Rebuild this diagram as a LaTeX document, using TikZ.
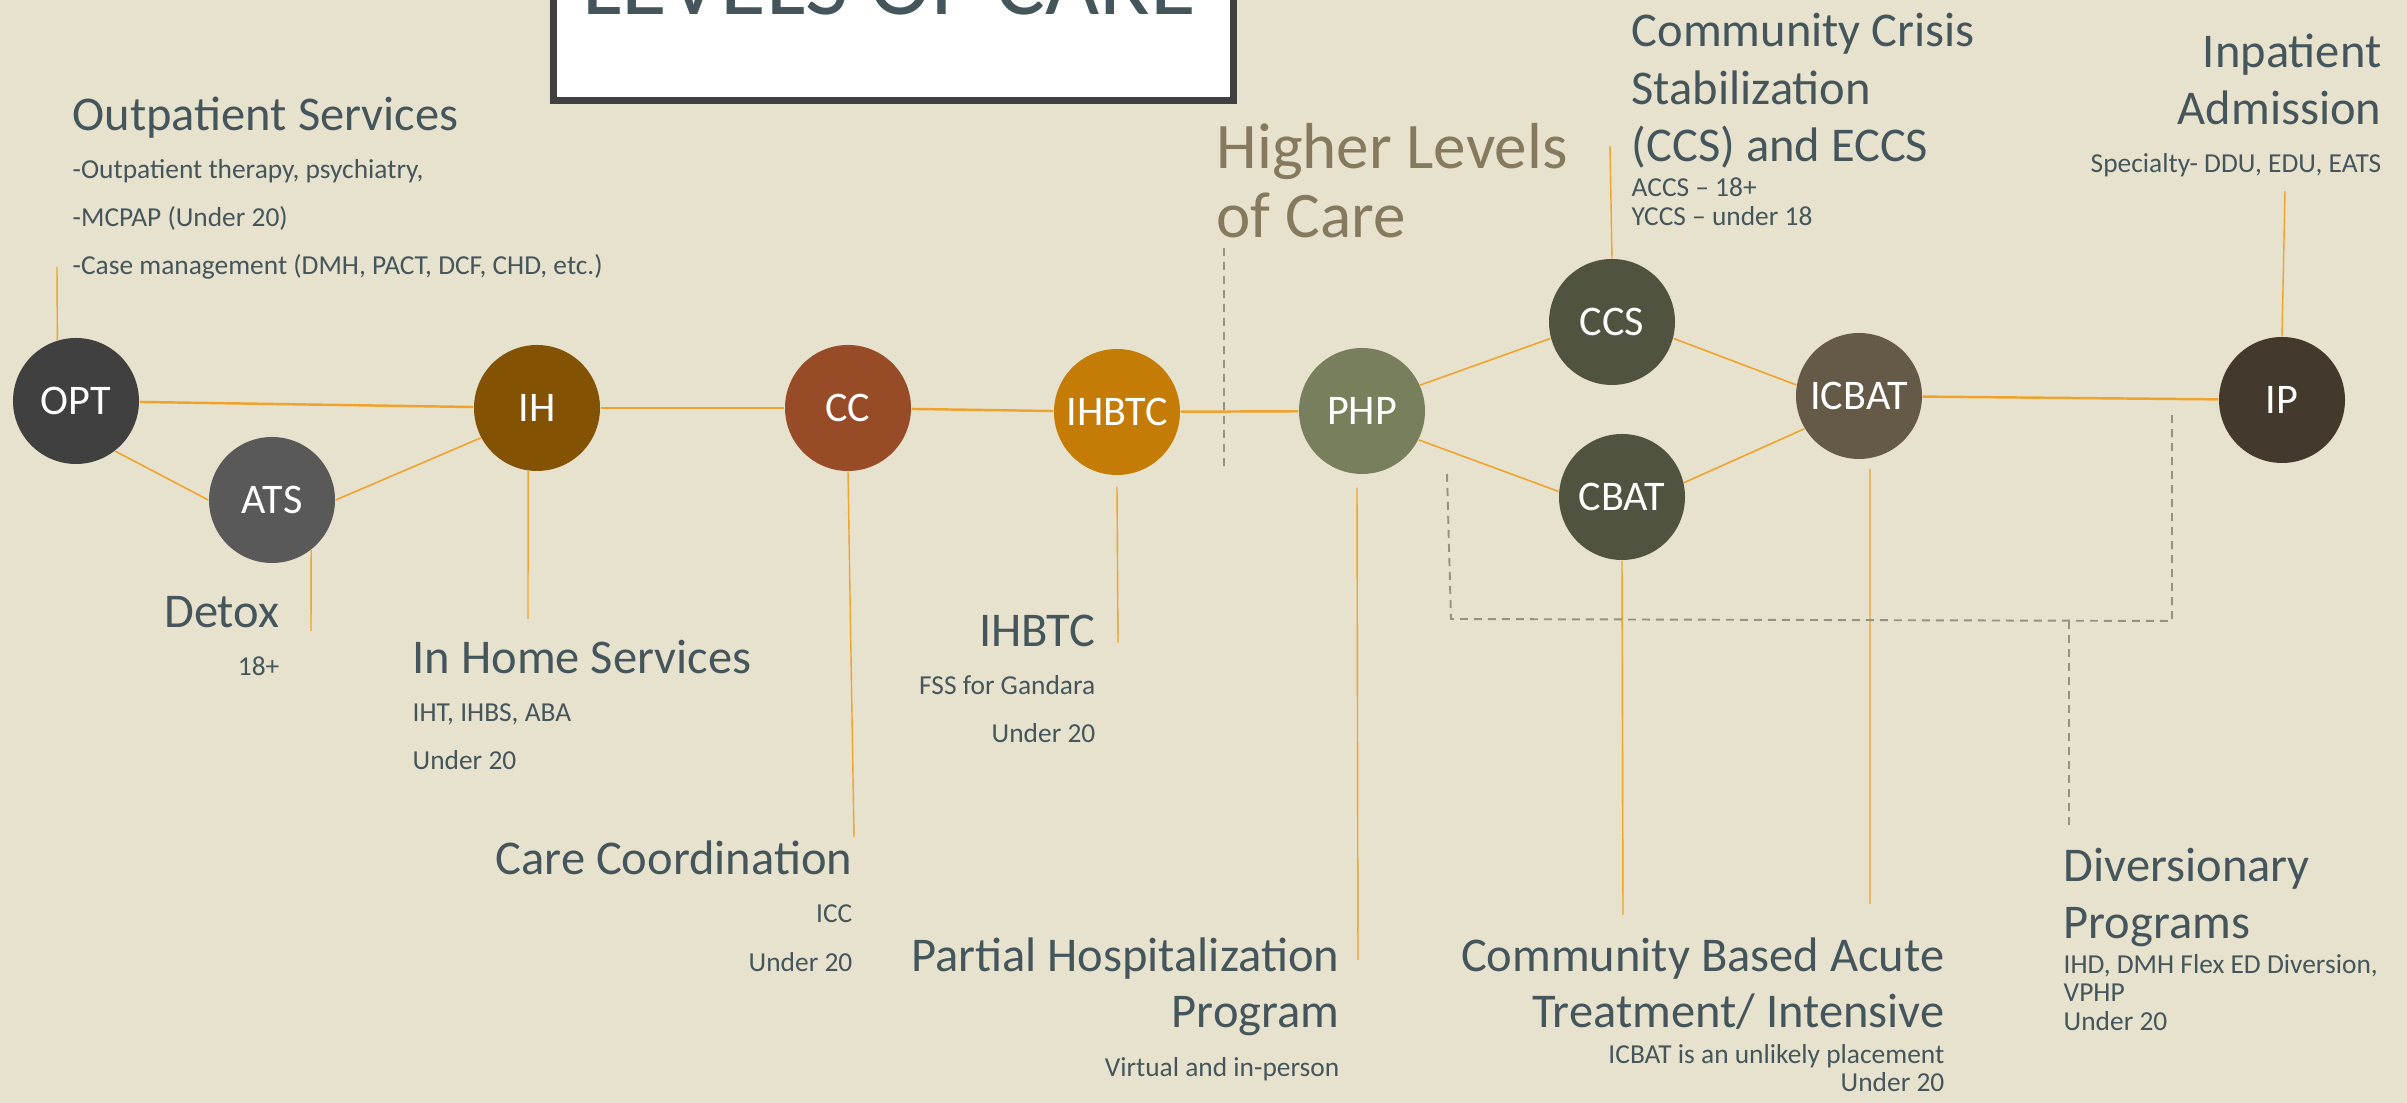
\documentclass[tikz,border=0pt]{standalone}
\usepackage{fontspec}
\setmainfont{Carlito}
\definecolor{bgbeige}{HTML}{E7E2CE}
\definecolor{boxgray}{HTML}{404040}
\definecolor{labelgray}{HTML}{44565C}
\definecolor{higherbrown}{HTML}{857A5E}
\definecolor{linkorange}{HTML}{F0A32C}
\definecolor{sepgray}{HTML}{959184}
\definecolor{optgray}{HTML}{404040}
\definecolor{atsgray}{HTML}{595959}
\definecolor{ihbrown}{HTML}{845203}
\definecolor{ccrust}{HTML}{974B27}
\definecolor{ihbtcorange}{HTML}{C47C06}
\definecolor{phpolive}{HTML}{787F5D}
\definecolor{ccsolive}{HTML}{50533F}
\definecolor{icbatbrown}{HTML}{655A47}
\definecolor{ipdark}{HTML}{433A2D}
\tikzset{
  lvl/.style={circle, minimum size=12.6mm, inner sep=0pt, text=white, font=\fontsize{12}{14}\selectfont},
  link/.style={draw=linkorange, line width=0.7pt},
  thinlink/.style={draw=linkorange, line width=0.45pt},
  callout/.style={draw=linkorange, line width=0.4pt},
  sep/.style={draw=sepgray, line width=0.55pt, dash pattern=on 0.8mm off 0.6mm},
  head/.style={text=labelgray, font=\fontsize{13.8}{17}\selectfont, inner sep=0pt},
  note/.style={text=labelgray, font=\fontsize{7.8}{9}\selectfont, inner sep=0pt},
}
\begin{document}
\begin{tikzpicture}[x=0.1mm, y=-0.1mm]
  \useasboundingbox[fill=bgbeige] (0,0) rectangle (2407,1103);

  % title box
  \draw[draw=boxgray, line width=2pt, fill=white] (553.5,-20) rectangle (1233.5,100.5);
  \node (title) [anchor=base west, inner sep=0pt, text=labelgray, font=\fontsize{26.6}{30}\selectfont] at (582,15) {LEVELS OF CARE};

  % levels
  \node (OPT)   [lvl, fill=optgray]     at (76,401)   {OPT};
  \node (ATS)   [lvl, fill=atsgray]     at (272,500)  {ATS};
  \node (IH)    [lvl, fill=ihbrown]     at (537,408)  {IH};
  \node (CC)    [lvl, fill=ccrust]      at (848,408)  {CC};
  \node (IHBTC) [lvl, fill=ihbtcorange] at (1117,412) {IHBTC};
  \node (PHP)   [lvl, fill=phpolive]    at (1362,411) {PHP};
  \node (CCS)   [lvl, fill=ccsolive]    at (1612,322) {CCS};
  \node (CBAT)  [lvl, fill=ccsolive]    at (1622,497) {CBAT};
  \node (ICBAT) [lvl, fill=icbatbrown]  at (1859,396) {ICBAT};
  \node (IP)    [lvl, fill=ipdark]      at (2282,400) {IP};

  % links
  \draw[link] (OPT) -- (IH);
  \draw[link] (IH) -- (CC);
  \draw[link] (CC) -- (IHBTC);
  \draw[link] (IHBTC) -- (PHP);
  \draw[link] (ICBAT) -- (IP);
  \draw[thinlink] (OPT.-52) -- (ATS.west);
  \draw[thinlink] (ATS.east) -- (IH.208);
  \draw[thinlink] (PHP.24) -- (CCS.195);
  \draw[thinlink] (PHP.-27) -- (CBAT.175);
  \draw[thinlink] (CCS.-15) -- (ICBAT.170);
  \draw[thinlink] (CBAT.13) -- (ICBAT.211);

  % callouts
  \coordinate (opt-tip) at (57,267);
  \coordinate (ats-tip) at (311,631);
  \coordinate (ih-tip) at (528,619);
  \coordinate (cc-tip) at (854,837);
  \coordinate (ihbtc-tip) at (1118,643);
  \coordinate (php-tip) at (1358,960);
  \coordinate (cbat-tip) at (1623,915);
  \coordinate (icbat-tip) at (1870,904);
  \coordinate (ccs-tip) at (1610,146);
  \coordinate (ip-tip) at (2285,191);
  \draw[callout] (OPT.107) -- (opt-tip);
  \draw[callout] (ATS.-52) -- (ats-tip);
  \draw[callout] (IH.-98) -- (ih-tip);
  \draw[callout] (CC.south) -- (cc-tip);
  \draw[callout] ([yshift=-1.1mm]IHBTC.south) -- (ihbtc-tip);
  \draw[callout] ([shift={(-0.5mm,-1.3mm)}]PHP.south) -- (php-tip);
  \draw[callout] (CBAT.south) -- (cbat-tip);
  \draw[callout] ([shift={(1.1mm,-0.9mm)}]ICBAT.south) -- (icbat-tip);
  \draw[callout] (CCS.north) -- (ccs-tip);
  \draw[callout] (IP.north) -- (ip-tip);

  % dashed separators
  \coordinate (sep-top) at (1224,248);
  \coordinate (sep-bot) at (1224,467);
  \draw[sep] (sep-top) -- (sep-bot);
  \coordinate (br-a) at (1447,474);
  \coordinate (br-b) at (1451,619);
  \coordinate (br-c) at (2172,621);
  \coordinate (br-d) at (2172,414);
  \coordinate (br-m) at (2069,621);
  \coordinate (div-tip) at (2069,825);
  \draw[sep] (br-a) -- (br-b) -- (br-c) -- (br-d);
  \draw[sep] (br-m) -- (div-tip);

  % higher levels
  \node (higher-a) [anchor=base west, inner sep=0pt, text=higherbrown, font=\fontsize{18.5}{22}\selectfont] at (1216,169) {Higher Levels};
  \node (higher-b) [anchor=base west, inner sep=0pt, text=higherbrown, font=\fontsize{18.5}{22}\selectfont] at (1216,238) {of Care};

  % outpatient
  \node (opt-head) [head, anchor=base west] at (72,131) {Outpatient Services};
  \node (opt-l1) [note, anchor=base west] at (72,179) {-Outpatient therapy, psychiatry,};
  \node (opt-l2) [note, anchor=base west] at (72,227) {-MCPAP (Under 20)};
  \node (opt-l3) [note, anchor=base west] at (72,275) {-Case management (DMH, PACT, DCF, CHD, etc.)};

  % detox
  \node (ats-head) [head, anchor=base east] at (280,628) {Detox};
  \node (ats-l1) [note, anchor=base east] at (280,676) {18+};

  % in home
  \node (ih-head) [head, anchor=base west] at (412,674) {In Home Services};
  \node (ih-l1) [note, anchor=base west] at (412,722) {IHT, IHBS, ABA};
  \node (ih-l2) [note, anchor=base west] at (412,770) {Under 20};

  % care coordination
  \node (cc-head) [head, anchor=base east] at (853,875) {Care Coordination};
  \node (cc-l1) [note, anchor=base east] at (853,923) {ICC};
  \node (cc-l2) [note, anchor=base east] at (853,972) {Under 20};

  % ihbtc
  \node (ihbtc-head) [head, anchor=base east] at (1096,647) {IHBTC};
  \node (ihbtc-l1) [note, anchor=base east] at (1096,695) {FSS for Gandara};
  \node (ihbtc-l2) [note, anchor=base east] at (1096,743) {Under 20};

  % partial hospitalization
  \node (php-head) [head, anchor=base east] at (1340,972) {Partial Hospitalization};
  \node (php-head2) [head, anchor=base east] at (1340,1028) {Program};
  \node (php-l1) [note, anchor=base east] at (1340,1077) {Virtual and in-person};

  % community based acute
  \node (cbat-head) [head, anchor=base east] at (1945,972) {Community Based Acute};
  \node (cbat-head2) [head, anchor=base east] at (1945,1028) {Treatment/ Intensive};
  \node (cbat-l1) [note, anchor=base east] at (1945,1064) {ICBAT is an unlikely placement};
  \node (cbat-l2) [note, anchor=base east] at (1945,1092) {Under 20};

  % diversionary
  \node (div-head) [head, anchor=base west] at (2063,882) {Diversionary};
  \node (div-head2) [head, anchor=base west] at (2063,939) {Programs};
  \node (div-l1) [note, anchor=base west] at (2063,974) {IHD, DMH Flex ED Diversion,};
  \node (div-l2) [note, anchor=base west] at (2063,1002) {VPHP};
  \node (div-l3) [note, anchor=base west] at (2063,1031) {Under 20};

  % crisis stabilization
  \node (ccs-head) [head, anchor=base west] at (1631,47) {Community Crisis};
  \node (ccs-head2) [head, anchor=base west] at (1631,105) {Stabilization};
  \node (ccs-head3) [head, anchor=base west] at (1631,162) {(CCS) and ECCS};
  \node (ccs-l1) [note, anchor=base west] at (1631,197) {ACCS – 18+};
  \node (ccs-l2) [note, anchor=base west] at (1631,226) {YCCS – under 18};

  % inpatient
  \node (ip-head) [head, anchor=base east] at (2382,68) {Inpatient};
  \node (ip-head2) [head, anchor=base east] at (2382,125) {Admission};
  \node (ip-l1) [note, anchor=base east] at (2382,173) {Specialty- DDU, EDU, EATS};
\end{tikzpicture}
\end{document}
